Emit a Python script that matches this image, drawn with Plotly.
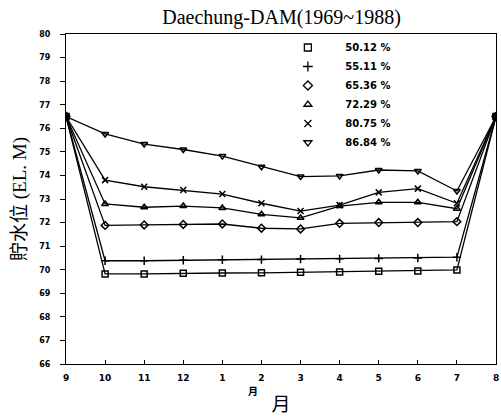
import plotly.graph_objects as go

months = ["9", "10", "11", "12", "1", "2", "3", "4", "5", "6", "7", "8"]
x_pos = list(range(len(months)))

s_5012 = [76.5, 69.82, 69.82, 69.85, 69.86, 69.87, 69.89, 69.9, 69.93, 69.95, 69.99, 76.5]
s_5511 = [76.5, 70.38, 70.38, 70.4, 70.42, 70.43, 70.45, 70.46, 70.48, 70.5, 70.53, 76.5]
s_6536 = [76.5, 71.88, 71.9, 71.92, 71.94, 71.76, 71.73, 71.97, 72.0, 72.0, 72.04, 76.5]
s_7229 = [76.5, 72.79, 72.65, 72.7, 72.62, 72.35, 72.2, 72.7, 72.86, 72.86, 72.59, 76.5]
s_8075 = [76.5, 73.8, 73.52, 73.38, 73.21, 72.82, 72.49, 72.74, 73.28, 73.44, 72.82, 76.5]
s_8684 = [76.5, 75.76, 75.33, 75.1, 74.82, 74.37, 73.95, 73.98, 74.23, 74.19, 73.34, 76.5]

series = [
    ("50.12 %", s_5012, "square-open"),
    ("55.11 %", s_5511, "cross-thin-open"),
    ("65.36 %", s_6536, "diamond-open"),
    ("72.29 %", s_7229, "triangle-up-open"),
    ("80.75 %", s_8075, "x-thin-open"),
    ("86.84 %", s_8684, "triangle-down-open"),
]

y_ticks = list(range(66, 81))

fig = go.Figure()
for name, ys, sym in series:
    fig.add_trace(go.Scatter(
        x=x_pos, y=ys, mode="lines+markers", showlegend=False,
        line=dict(color="black", width=1.3),
        marker=dict(symbol=sym, size=6, color="black", line=dict(color="black", width=1.5)),
    ))
    fig.add_trace(go.Scatter(
        x=[None], y=[None], mode="markers", name="     " + name,
        marker=dict(symbol=sym, size=7, color="black", line=dict(color="black", width=1.3)),
    ))

# converging end points
fig.add_trace(go.Scatter(
    x=[x_pos[0], x_pos[-1]], y=[s_5012[0], s_5012[-1]], mode="markers", showlegend=False,
    marker=dict(symbol="circle", size=8, color="black"),
))

fig.update_layout(
    width=501, height=416,
    margin=dict(l=66, r=2, t=34, b=52),
    paper_bgcolor="white", plot_bgcolor="white",
    title=dict(text="Daechung-DAM(1969~1988)", x=0.562, xanchor="center", y=0.977, yanchor="top",
               font=dict(family="Liberation Serif, serif", size=20, color="black")),
    legend=dict(x=0.516, y=1.003, xanchor="left", yanchor="top", bgcolor="rgba(0,0,0,0)",
                font=dict(family="DejaVu Sans", size=10, color="black", weight="bold"),
                tracegroupgap=0),
    showlegend=True,
)

fig.update_xaxes(
    range=[0, 11], tickvals=x_pos, ticktext=months,
    showgrid=False, zeroline=False, showline=True, linecolor="black", linewidth=1.2, mirror=True,
    ticks="inside", ticklen=4, tickcolor="black", ticklabeloverflow="allow", ticklabelstandoff=5,
    tickfont=dict(family="DejaVu Sans", size=9, color="black", weight="bold"),
    title=dict(text="月", standoff=17, font=dict(family="Noto Sans CJK SC", size=19, color="black")),
)
fig.update_yaxes(
    range=[66, 80], tickvals=y_ticks,
    showgrid=False, zeroline=False, showline=True, linecolor="black", linewidth=1.2, mirror=True,
    ticks="outside", ticklen=5, tickcolor="black", ticklabelstandoff=8,
    tickfont=dict(family="DejaVu Sans", size=8, color="black", weight="bold"),
    title=dict(text="貯水位 (EL. M)", standoff=7, font=dict(family="Liberation Serif, Noto Sans CJK TC", size=19, color="black")),
)

fig.add_annotation(text="月", xref="paper", yref="paper", x=0.436, y=-0.11, showarrow=False,
                   font=dict(family="Noto Sans CJK SC", size=10, color="black", weight="bold"))

fig.write_html("out.html")
